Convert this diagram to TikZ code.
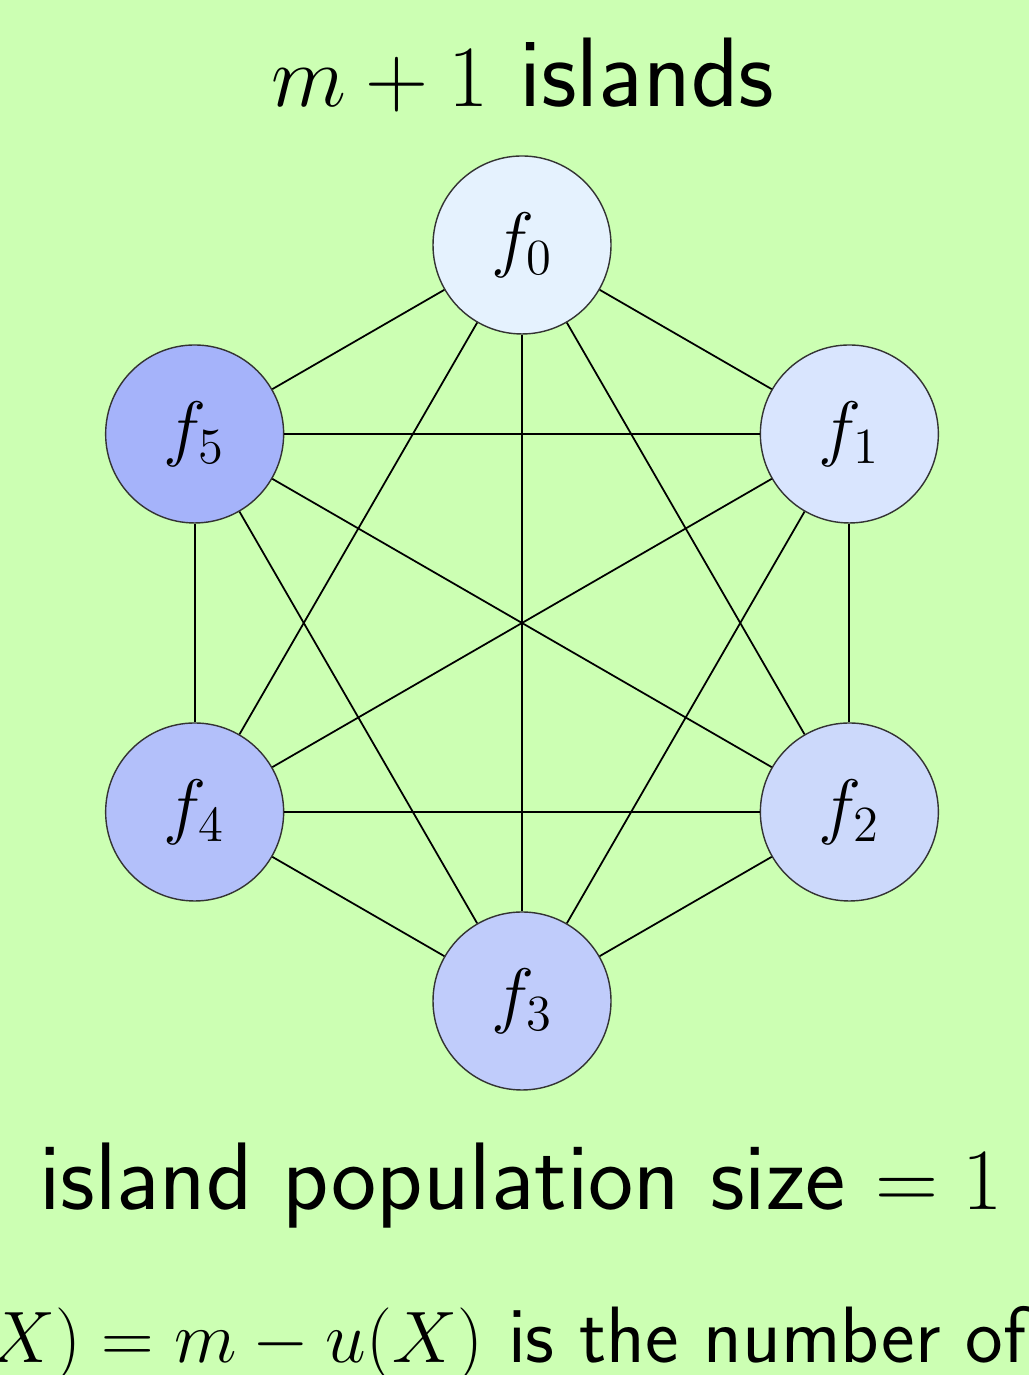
\documentclass[tikz,border=0pt]{standalone}
\usetikzlibrary{positioning, calc}
\definecolor{cbg}{HTML}{CCFFB3}
\definecolor{cisl0}{HTML}{E5F2FE}
\definecolor{cisl1}{HTML}{D9E5FE}
\definecolor{cisl2}{HTML}{CCD9FB}
\definecolor{cisl3}{HTML}{C0CCFB}
\definecolor{cisl4}{HTML}{B3C0FA}
\definecolor{cisl5}{HTML}{A5B3FA}
\tikzset{
  every picture/.style={font=\sffamily},
  island/.style={circle, draw=black!80, line width=0.4pt, fill=#1, minimum size=1.78cm, inner sep=0pt, font=\fontsize{22.5}{27}\selectfont},
  link/.style={draw=black, line width=0.5pt},
  caption/.style={font=\sffamily\fontsize{27.3}{33}\selectfont, inner sep=0pt},
  remark/.style={font=\sffamily\fontsize{22.75}{27}\selectfont, inner sep=0pt},
}
\begin{document}
\begin{tikzpicture}
  \useasboundingbox (0,0) rectangle (10.29,13.75);
  \fill[cbg] (0,0) rectangle (10.29,13.75);
  \coordinate (hub) at (5.22,7.52);
  % the six islands on a hexagon
  \foreach \k/\ang in {0/90, 1/30, 2/-30, 3/-90, 4/210, 5/150}
    \node[island=cisl\k] (f\k) at ($(hub)+(\ang:3.78)$) {$f_{\k}$};
  % every island talks to every other one
  \foreach \i in {0,...,4}{
    \pgfmathtruncatemacro\nxt{\i+1}
    \foreach \j in {\nxt,...,5}
      \draw[link] (f\i) -- (f\j);
  }
  \node[caption, font=\sffamily\fontsize{28.1}{34}\selectfont, anchor=base] (title) at (5.23,12.68) {$m+1$ islands};
  \node[caption, anchor=base] (popsize) at (5.21,1.65) {island population size $=1$};
  \node[remark, anchor=base east] (fitness) at (10.27,0.13) {$f(X)=m-u(X)$ is the number of};
\end{tikzpicture}
\end{document}
